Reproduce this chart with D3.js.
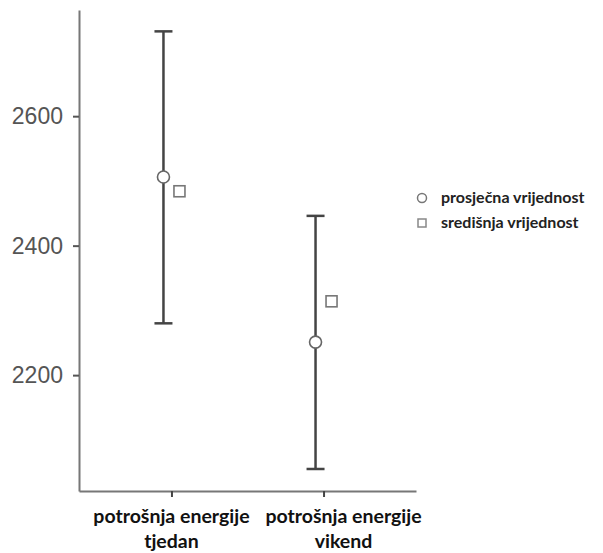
<!DOCTYPE html>
<html>
<head>
<meta charset="utf-8">
<script src="https://cdn.jsdelivr.net/npm/d3@7"></script>
<style>
body{margin:0;background:#fff;}
svg{display:block;}
</style>
</head>
<body>
<svg id="chart" width="603" height="553"></svg>
<script>
// ---- data ----
const categories = ["potrošnja energije tjedan", "potrošnja energije vikend"];
const categoryLines = [["potrošnja energije", "tjedan"], ["potrošnja energije", "vikend"]];
const meanValues = [2506, 2251];
const medianValues = [2484, 2314];
const lowerValues = [2280, 2055];
const upperValues = [2731, 2446];
const yTicks = [2200, 2400, 2600];
const legendLabels = ["prosječna vrijednost", "središnja vrijednost"];

(function () {
const svg = d3.select("#chart");
const plotLeft = 79, plotRight = 416, plotTop = 10, plotBottom = 491;

const y = d3.scaleLinear().domain([2021, 2764]).range([plotBottom, plotTop]);
const x = d3.scalePoint().domain(categories).range([plotLeft, plotRight]).padding(0.608);
const dodge = 8;

// y axis
const yAxis = svg.append("g").attr("transform", `translate(${plotLeft},0)`)
  .call(d3.axisLeft(y).tickValues(yTicks).tickSize(6).tickSizeOuter(0).tickPadding(10).tickFormat(d3.format("d")));
yAxis.select(".domain").attr("stroke", "#777").attr("stroke-width", 2);
yAxis.selectAll(".tick line").attr("stroke", "#555").attr("stroke-width", 2);
yAxis.selectAll(".tick text").attr("fill", "#555").style("font-family", "'Liberation Sans', Arial, sans-serif").style("font-size", "23px");

// x axis
const xAxis = svg.append("g").attr("transform", `translate(0,${plotBottom})`)
  .call(d3.axisBottom(x).tickSize(6).tickSizeOuter(0).tickFormat(""));
xAxis.select(".domain").attr("stroke", "#777").attr("stroke-width", 2);
xAxis.selectAll(".tick line").attr("stroke", "#444").attr("stroke-width", 2);

// category labels
const labelShift = [0, 20];
categories.forEach((c, i) => {
  const t = svg.append("text")
    .attr("x", x(c) + labelShift[i])
    .attr("text-anchor", "middle")
    .style("font-family", "Lato, 'Open Sans', sans-serif")
    .style("font-weight", "bold")
    .style("font-size", "19.5px")
    .attr("fill", "#111");
  categoryLines[i].forEach((ln, j) => {
    t.append("tspan").attr("x", x(c) + labelShift[i]).attr("y", 523 + j * 25).text(ln);
  });
});

// error bars
const cap = 9;
const g = svg.append("g");
categories.forEach((c, i) => {
  const cx = x(c) - dodge;
  g.append("line").attr("x1", cx).attr("x2", cx).attr("y1", y(upperValues[i])).attr("y2", y(lowerValues[i]))
    .attr("stroke", "#444").attr("stroke-width", 2.5);
  [upperValues[i], lowerValues[i]].forEach(v => {
    g.append("line").attr("x1", cx - cap).attr("x2", cx + cap).attr("y1", y(v)).attr("y2", y(v))
      .attr("stroke", "#444").attr("stroke-width", 2.5);
  });
});

// mean circles
g.selectAll("circle.mean").data(categories).enter().append("circle")
  .attr("cx", c => x(c) - dodge)
  .attr("cy", (c, i) => y(meanValues[i]))
  .attr("r", 6)
  .attr("fill", "#fff").attr("stroke", "#666").attr("stroke-width", 1.6);

// median squares
const sq = 11;
g.selectAll("rect.median").data(categories).enter().append("rect")
  .attr("x", c => x(c) + dodge - sq / 2)
  .attr("y", (c, i) => y(medianValues[i]) - sq / 2)
  .attr("width", sq).attr("height", sq)
  .attr("fill", "#fff").attr("stroke", "#777").attr("stroke-width", 1.6);

// legend
const lg = svg.append("g");
const lx = 422, ly0 = 198, lstep = 25;
lg.append("circle").attr("cx", lx).attr("cy", ly0).attr("r", 4.5)
  .attr("fill", "#fff").attr("stroke", "#777").attr("stroke-width", 1.5);
lg.append("rect").attr("x", lx - 4).attr("y", ly0 + lstep - 4).attr("width", 8).attr("height", 8)
  .attr("fill", "#fff").attr("stroke", "#888").attr("stroke-width", 1.5);
legendLabels.forEach((l, i) => {
  lg.append("text").attr("x", 441).attr("y", ly0 + i * lstep + 5)
    .style("font-family", "Lato, 'Open Sans', sans-serif")
    .style("font-weight", "bold").style("font-size", "16px").attr("fill", "#222").text(l);
});
})();
</script>
</body>
</html>
